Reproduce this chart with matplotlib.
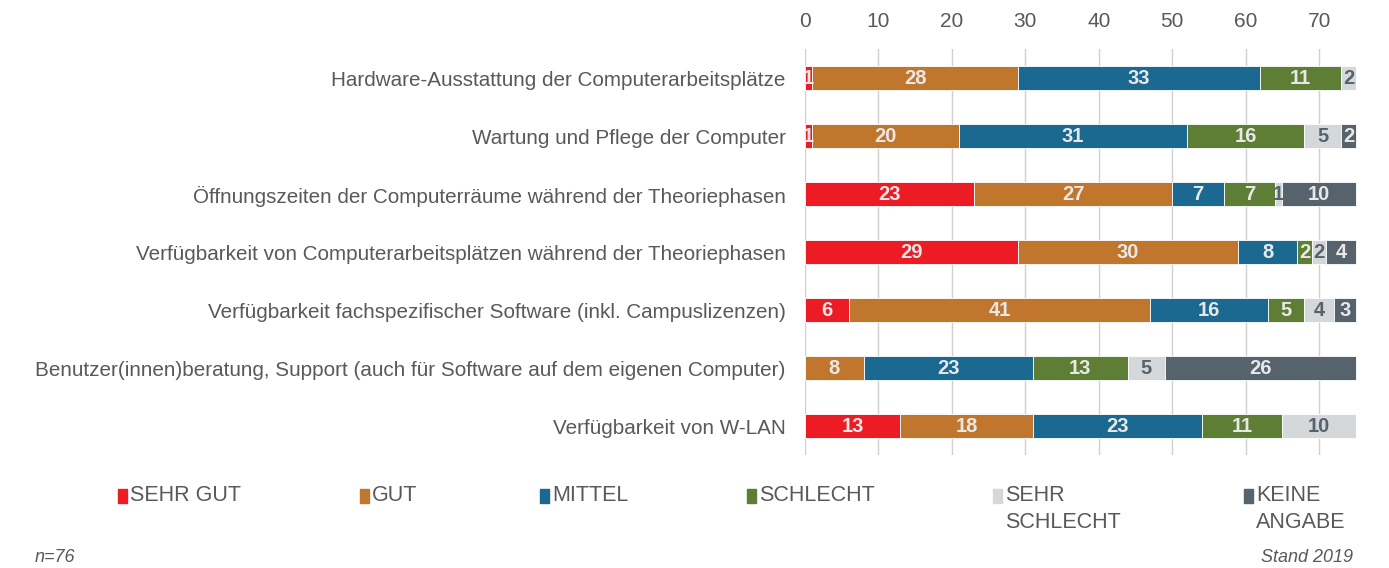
import matplotlib
matplotlib.use("Agg")
import matplotlib.pyplot as plt
from matplotlib.patches import Rectangle
import numpy as np

plt.rcParams['font.family'] = ['Liberation Sans', 'DejaVu Sans']

categories = [
    "Hardware-Ausstattung der Computerarbeitsplätze",
    "Wartung und Pflege der Computer",
    "Öffnungszeiten der Computerräume während der Theoriephasen",
    "Verfügbarkeit von Computerarbeitsplätzen während der Theoriephasen",
    "Verfügbarkeit fachspezifischer Software (inkl. Campuslizenzen)",
    "Benutzer(innen)beratung, Support (auch für Software auf dem eigenen Computer)",
    "Verfügbarkeit von W-LAN",
]
series_names = ["SEHR GUT", "GUT", "MITTEL", "SCHLECHT", "SEHR\nSCHLECHT", "KEINE\nANGABE"]
sehr_gut = [1, 1, 23, 29, 6, 0, 13]
gut = [28, 20, 27, 30, 41, 8, 18]
mittel = [33, 31, 7, 8, 16, 23, 23]
schlecht = [11, 16, 7, 2, 5, 13, 11]
sehr_schlecht = [2, 5, 1, 2, 4, 5, 10]
keine_angabe = [0, 2, 10, 4, 3, 26, 0]
x_ticks = [0, 10, 20, 30, 40, 50, 60, 70]

series = [sehr_gut, gut, mittel, schlecht, sehr_schlecht, keine_angabe]
colors = ["#ED1C24", "#C0762C", "#1B6890", "#5E7E35", "#D5D8DB", "#56636D"]
label_colors = ["#E8E8E8", "#E8E8E8", "#E8E8E8", "#E8E8E8", "#56636D", "#E8E8E8"]
grey = "#595959"

fig = plt.figure(figsize=(13.89, 5.68), dpi=100)
ax = fig.add_axes([805/1389, 1-455/568, (1358-805)/1389, (455-49)/568])

y = np.arange(len(categories))
left = np.zeros(len(categories))
for vals, c, lc in zip(series, colors, label_colors):
    vals = np.array(vals, dtype=float)
    ax.barh(y, vals, left=left, color=c, height=0.42, edgecolor="white", linewidth=0.6, zorder=3)
    for yi, (l, v) in enumerate(zip(left, vals)):
        if v > 0:
            ax.text(l + v/2, yi, f"{int(v)}", ha="center", va="center", color=lc,
                    fontsize=14.5, fontweight="bold", zorder=4)
    left += vals

ax.set_ylim(len(categories)-0.5, -0.5)
ax.set_xlim(0, 75.3)
ax.xaxis.tick_top()
ax.set_xticks(x_ticks)
ax.tick_params(axis="x", length=0, pad=13, labelsize=15, labelcolor=grey)
ax.set_yticks(y)
ax.set_yticklabels(categories)
ax.tick_params(axis="y", length=0, pad=14, labelsize=14.9, labelcolor=grey)
ax.grid(axis="x", color="#D0D0D0", linewidth=1, zorder=0)
for s in ax.spines.values():
    s.set_visible(False)

# legend
leg_x = [118, 360, 540, 747, 993, 1244]
for xpx, name, c in zip(leg_x, series_names, colors):
    fig.patches.append(Rectangle((xpx/1389, 1-503/568), 9/1389, 14/568,
                                 transform=fig.transFigure, color=c, figure=fig))
    fig.text((xpx+12)/1389, 1-485/568, name, ha="left", va="top", fontsize=15.5,
             color=grey, linespacing=1.35)

fig.text(35/1389, 1-557/568, "n=76", ha="left", va="center", fontsize=13,
         style="italic", color=grey)
fig.text(1353/1389, 1-557/568, "Stand 2019", ha="right", va="center", fontsize=13,
         style="italic", color=grey)

fig.savefig("out.png", dpi=100)
